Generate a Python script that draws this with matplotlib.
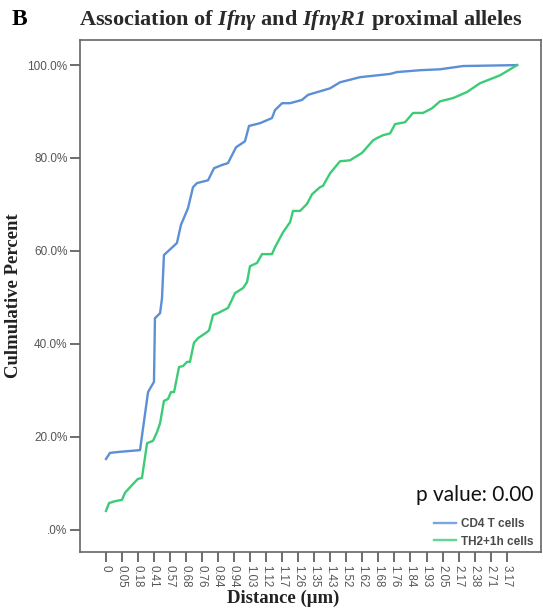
import matplotlib
matplotlib.use("Agg")
import matplotlib.pyplot as plt
import numpy as np

plt.rcParams['mathtext.fontset'] = 'custom'
plt.rcParams['mathtext.it'] = 'Liberation Serif:italic:bold'
plt.rcParams['mathtext.rm'] = 'Liberation Serif:italic:bold'
plt.rcParams['mathtext.bf'] = 'Liberation Serif:italic:bold'

# distance categories shown on the x axis
tick_labels = ["0", "0.05", "0.18", "0.41", "0.57", "0.68", "0.76", "0.84", "0.94",
               "1.03", "1.12", "1.17", "1.26", "1.35", "1.43", "1.52", "1.62", "1.68",
               "1.76", "1.84", "1.93", "2.05", "2.17", "2.38", "2.71", "3.17"]

# CD4 T cells: position along the category axis, cumulative percent
cd4_pos = [0.03, 0.28, 0.78, 2.15, 2.65, 3.02, 3.08, 3.40, 3.52, 3.64, 4.45, 4.70, 5.14,
           5.45, 5.70, 6.39, 6.76, 7.26, 7.63, 8.13, 8.69, 8.94, 9.63, 10.37, 10.56,
           11.0, 11.5, 12.24, 12.62, 13.99, 14.61, 15.86, 17.73, 18.16, 19.6, 20.84,
           22.28, 25.64]
cd4_pct = [15.2, 16.5, 16.7, 17.1, 29.6, 31.8, 45.5, 46.6, 49.8, 59.1, 61.7, 65.6, 69.2,
           73.7, 74.6, 75.2, 77.8, 78.5, 78.9, 82.3, 83.6, 86.9, 87.5, 88.6, 90.3,
           91.8, 91.8, 92.5, 93.6, 95.0, 96.3, 97.4, 98.1, 98.5, 98.9, 99.1,
           99.8, 100.0]

# TH2+1h cells
th2_pos = [0.03, 0.22, 0.59, 1.03, 1.21, 1.71, 2.02, 2.27, 2.59, 2.96, 3.21, 3.40, 3.64,
           3.89, 4.08, 4.27, 4.58, 4.83, 5.08, 5.26, 5.51, 5.76, 6.32, 6.45, 6.70, 7.01,
           7.63, 8.07, 8.57, 8.82, 9.00, 9.44, 9.75, 10.37, 10.56, 11.06, 11.50, 11.68,
           12.12, 12.55, 12.87, 13.36, 13.55, 13.99, 14.61, 15.23, 15.98, 16.67, 16.92,
           17.29, 17.73, 18.04, 18.66, 19.16, 19.78, 20.34, 20.84, 21.65, 22.52, 23.33,
           24.58, 25.64]
th2_pct = [4.0, 5.7, 6.1, 6.4, 7.9, 9.8, 10.9, 11.1, 18.6, 19.1, 21.0, 22.9, 27.7,
           28.1, 29.6, 29.6, 35.0, 35.2, 36.1, 36.1, 40.2, 41.2, 42.5, 42.9, 46.2, 46.6,
           47.7, 50.9, 52.0, 53.3, 56.7, 57.4, 59.3, 59.3, 60.8, 64.0, 66.2, 68.6,
           68.6, 70.1, 72.2, 73.7, 74.0, 76.7, 79.3, 79.5, 81.1, 83.8, 84.3,
           84.9, 85.3, 87.3, 87.7, 89.7, 89.7, 90.7, 92.2, 92.9, 94.2, 96.1,
           97.8, 100.0]

y_ticks = [0, 20, 40, 60, 80, 100]
y_tick_labels = [".0%", "20.0%", "40.0%", "60.0%", "80.0%", "100.0%"]

fig = plt.figure(figsize=(5.43, 6.12), dpi=100)
ax = fig.add_axes([0.1473, 0.098, 0.849, 0.8366])

l1, = ax.plot(cd4_pos, cd4_pct, color="#5b8fd6", lw=1.7, label="CD4 T cells")
l2, = ax.plot(th2_pos, th2_pct, color="#3ccc76", lw=1.7, label="TH2+1h cells")

ax.set_xlim(-1.59, 27.13)
ax.set_ylim(-4.84, 105.4)

ax.set_xticks(np.arange(len(tick_labels)))
ax.set_xticklabels(tick_labels, rotation=-90, fontsize=8.3, color="#555555",
                   family="Liberation Sans")
ax.set_yticks(y_ticks)
ax.set_yticklabels(y_tick_labels, fontsize=8.5, color="#555555", family="Liberation Sans")
ax.tick_params(axis="both", direction="out", length=7, width=1.2, color="#555555", pad=2)

for s in ax.spines.values():
    s.set_color("#666666")
    s.set_linewidth(1.2)

ax.set_ylabel("Culmulative Percent", family="Liberation Serif", fontweight="bold",
              fontsize=13.5, color="#222222")
ax.yaxis.set_label_coords(-0.125, 0.5)
ax.set_xlabel("Distance (\u03bcm)", family="Liberation Serif", fontweight="bold",
              fontsize=13.5, color="#222222", va="center")
ax.xaxis.set_label_coords(0.44, -0.091)

fig.text(0.554, 0.968, r"Association of $Ifnγ$ and $IfnγR1$ proximal alleles",
         ha="center", va="center", family="Liberation Serif", fontweight="bold",
         fontsize=16, color="#2a2a2a")
fig.text(0.022, 0.968, "B", ha="left", va="center", family="Liberation Serif",
         fontweight="bold", fontsize=17, color="black")

ax.text(0.983, 0.111, "p value: 0.00", transform=ax.transAxes, ha="right", va="center",
        family="Lato", fontsize=15, color="#111111")

leg = ax.legend(handles=[l1, l2], loc="lower right", bbox_to_anchor=(1.0, -0.005),
                frameon=False, handlelength=1.9, handletextpad=0.45,
                labelspacing=0.45, borderaxespad=0.2,
                prop={"family": "Liberation Sans", "weight": "bold", "size": 8.5})
for t in leg.get_texts():
    t.set_color("#4a4a4a")
for h in leg.get_lines():
    h.set_alpha(0.8)

fig.savefig("out.png", dpi=100)
